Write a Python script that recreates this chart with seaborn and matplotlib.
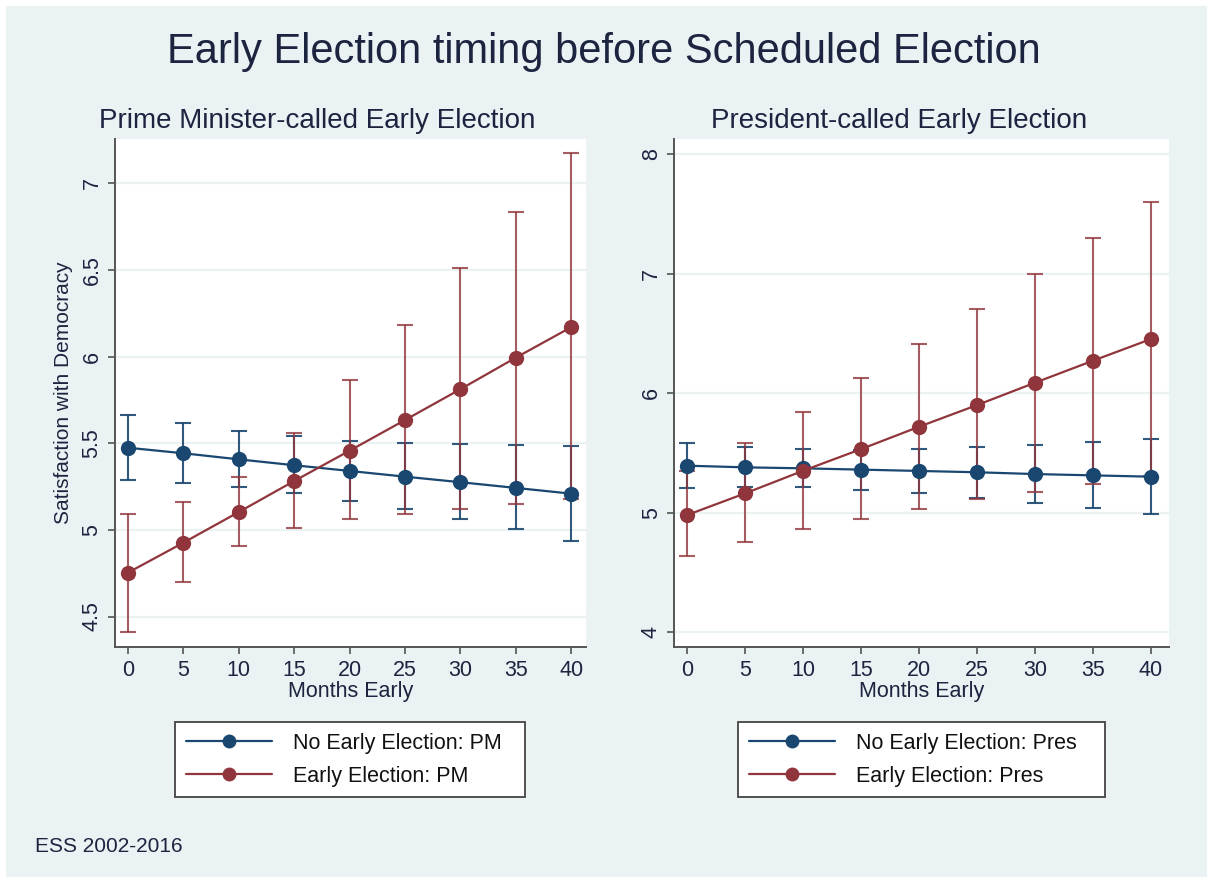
import matplotlib
matplotlib.use("Agg")
import matplotlib.pyplot as plt
import seaborn as sns
import pandas as pd
import numpy as np
from matplotlib.lines import Line2D
from matplotlib.patches import Rectangle

# ---------------- data ----------------
months = [0, 5, 10, 15, 20, 25, 30, 35, 40]

pm_no = [5.474, 5.442, 5.407, 5.373, 5.340, 5.307, 5.275, 5.242, 5.209]
pm_no_lo = [5.288, 5.272, 5.246, 5.211, 5.169, 5.119, 5.063, 5.003, 4.938]
pm_no_hi = [5.663, 5.615, 5.572, 5.542, 5.515, 5.503, 5.494, 5.488, 5.482]
pm_early = [4.753, 4.926, 5.103, 5.282, 5.457, 5.634, 5.812, 5.994, 6.170]
pm_early_lo = [4.413, 4.698, 4.907, 5.009, 5.061, 5.092, 5.123, 5.148, 5.177]
pm_early_hi = [5.094, 5.163, 5.307, 5.561, 5.865, 6.183, 6.512, 6.835, 7.175]

pres_no = [5.394, 5.380, 5.372, 5.361, 5.350, 5.339, 5.324, 5.313, 5.302]
pres_no_lo = [5.210, 5.213, 5.213, 5.193, 5.166, 5.126, 5.084, 5.040, 4.988]
pres_no_hi = [5.581, 5.553, 5.533, 5.525, 5.533, 5.547, 5.567, 5.590, 5.617]
pres_early = [4.982, 5.163, 5.352, 5.533, 5.720, 5.901, 6.088, 6.272, 6.453]
pres_early_lo = [4.639, 4.758, 4.861, 4.948, 5.029, 5.113, 5.176, 5.241, 5.305]
pres_early_hi = [5.350, 5.581, 5.845, 6.125, 6.411, 6.704, 7.000, 7.300, 7.601]

pm_labels = ["No Early Election: PM", "Early Election: PM"]
pres_labels = ["No Early Election: Pres", "Early Election: Pres"]
pm_yticks = [4.5, 5, 5.5, 6, 6.5, 7]
pres_yticks = [4, 5, 6, 7, 8]
xticks = [0, 5, 10, 15, 20, 25, 30, 35, 40]

main_title = "Early Election timing before Scheduled Election"
pm_title = "Prime Minister-called Early Election"
pres_title = "President-called Early Election"
xlab = "Months Early"
ylab = "Satisfaction with Democracy"
note = "ESS 2002-2016"

# ---------------- style ----------------
sns.set_theme(style="white")
plt.rcParams["font.family"] = ["Liberation Sans", "DejaVu Sans"]

NAVY = "#1A476F"
MAROON = "#90353B"
BG = "#EAF2F3"
TXT = "#1c2440"
SPINE = "#555555"

W, H = 1207, 877
fig = plt.figure(figsize=(W / 100, H / 100), dpi=100)
fig.patch.set_facecolor("white")
fig.patches.append(Rectangle((6 / W, 0), 1 - 6 / W, 1 - 6 / H, transform=fig.transFigure,
                             facecolor=BG, edgecolor="none", zorder=-10))


def fx(px):
    return px / W


def fy(py):
    return 1 - py / H


ax1 = fig.add_axes([fx(115), fy(647), fx(585.7) - fx(115), fy(139.3) - fy(647)])
ax2 = fig.add_axes([fx(674.3), fy(647), fx(1169) - fx(674.3), fy(139.3) - fy(647)])


def panel(ax, no, no_lo, no_hi, ea, ea_lo, ea_hi, labels, yticks, ylim, xlim):
    df = pd.DataFrame({
        "month": months * 2,
        "value": list(no) + list(ea),
        "series": [labels[0]] * len(months) + [labels[1]] * len(months),
    })
    ax.set_facecolor("white")
    for y in yticks:
        ax.axhline(y, color=BG, lw=1.6, zorder=0)
    # CIs
    no_a = np.array(no); ea_a = np.array(ea)
    ax.errorbar(months, no_a, yerr=[no_a - np.array(no_lo), np.array(no_hi) - no_a],
                fmt="none", ecolor=NAVY, elinewidth=1.5, capsize=5.5, capthick=1.5,
                alpha=0.9, zorder=2)
    ax.errorbar(months, ea_a, yerr=[ea_a - np.array(ea_lo), np.array(ea_hi) - ea_a],
                fmt="none", ecolor=MAROON, elinewidth=1.5, capsize=5.5, capthick=1.5,
                alpha=0.8, zorder=2)
    sns.lineplot(data=df, x="month", y="value", hue="series",
                 palette={labels[0]: NAVY, labels[1]: MAROON},
                 marker="o", markersize=11, markeredgewidth=0, linewidth=1.6,
                 legend=False, ax=ax, zorder=3)
    ax.set_xlim(*xlim)
    ax.set_ylim(*ylim)
    ax.set_xticks(xticks)
    ax.set_yticks(yticks)
    ax.set_yticklabels([("%g" % v) for v in yticks], rotation=90, va="center")
    for s in ["top", "right"]:
        ax.spines[s].set_visible(False)
    for s in ["left", "bottom"]:
        ax.spines[s].set_color(SPINE)
        ax.spines[s].set_linewidth(1.4)
    ax.tick_params(axis="both", direction="out", length=5, width=1.2, color=SPINE,
                   labelsize=15.5, labelcolor=TXT, pad=4, left=True, bottom=True)
    ax.set_xlabel(xlab, fontsize=15.5, color=TXT, labelpad=0)
    ax.set_ylabel("")
    handles = [Line2D([], [], color=NAVY, lw=1.6, marker="o", markersize=10, markeredgewidth=0),
               Line2D([], [], color=MAROON, lw=1.6, marker="o", markersize=10, markeredgewidth=0)]
    return handles


h1 = panel(ax1, pm_no, pm_no_lo, pm_no_hi, pm_early, pm_early_lo, pm_early_hi,
           pm_labels, pm_yticks, (4.324, 7.254), (-1.17, 41.3))
h2 = panel(ax2, pres_no, pres_no_lo, pres_no_hi, pres_early, pres_early_lo, pres_early_hi,
           pres_labels, pres_yticks, (3.878, 8.123), (-1.12, 41.55))

ax1.set_ylabel(ylab, fontsize=15, color=TXT, labelpad=6)

fig.text(0.5, fy(52), main_title, ha="center", va="center", fontsize=30, color=TXT)
fig.text(fx(317.5), fy(121), pm_title, ha="center", va="center", fontsize=20, color=TXT)
fig.text(fx(899), fy(121), pres_title, ha="center", va="center", fontsize=20, color=TXT)
fig.text(fx(35), fy(847), note, ha="left", va="center", fontsize=15, color=TXT)


def make_legend(ax, handles, labels, x0, x1):
    y_top, y_bot = 722, 797
    leg = ax.legend(handles, labels, loc="upper left",
                    bbox_to_anchor=(fx(x0), fy(y_bot), fx(x1) - fx(x0), fy(y_top) - fy(y_bot)),
                    bbox_transform=fig.transFigure, mode="expand", borderaxespad=0,
                    fontsize=15.5, handlelength=4.0, handletextpad=1.0, labelspacing=0.55,
                    borderpad=0.5, frameon=True, fancybox=False, framealpha=1)
    leg.get_frame().set_edgecolor("#444444")
    leg.get_frame().set_linewidth(1.3)
    for t in leg.get_texts():
        t.set_color("#111111")
    return leg


make_legend(ax1, h1, pm_labels, 175, 525)
make_legend(ax2, h2, pres_labels, 738, 1105)

fig.savefig("out.png", dpi=100, facecolor=fig.get_facecolor())
